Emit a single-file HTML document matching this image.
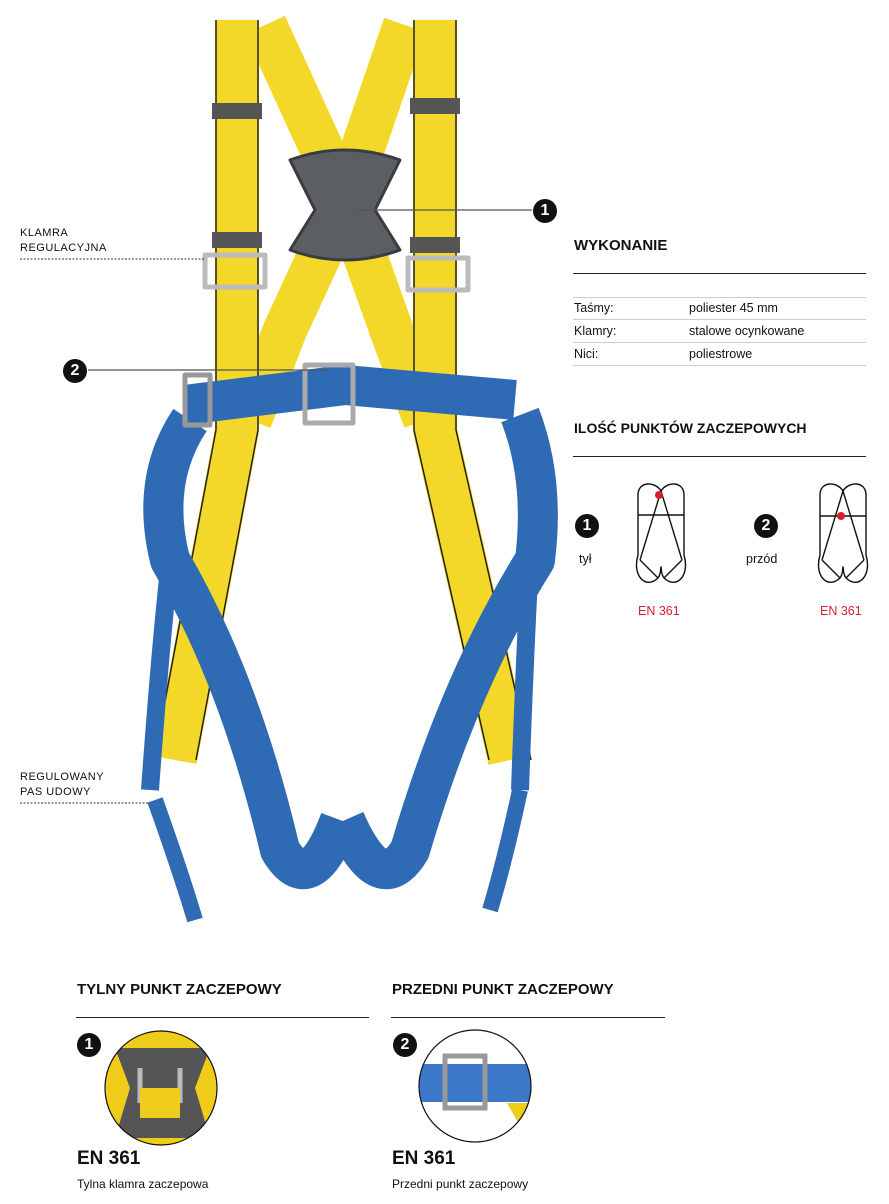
<!DOCTYPE html>
<html><head><meta charset="utf-8"><style>
body{margin:0;width:889px;height:1204px;background:#fff;font-family:"Liberation Sans",sans-serif;position:relative;overflow:hidden;color:#111}
.a{position:absolute}
.h{font-weight:bold;font-size:15px}
.ln{position:absolute;height:1px;background:#222}
.g{position:absolute;height:1px;background:#ccc}
.t{font-size:12.5px}
.bad{position:absolute;width:24px;height:24px;border-radius:50%;background:#111;color:#fff;font-weight:bold;font-size:16px;text-align:center;line-height:24px}
.sm{font-size:11px;letter-spacing:.5px}
</style></head><body>
<svg class="a" style="left:0;top:0" width="889" height="960" viewBox="0 0 889 960">
<g fill="none" stroke-linejoin="round" stroke-linecap="butt">
<g stroke="#f3d82a" stroke-width="44">
<path d="M237 20 L237 430 L175 760"/>
<path d="M435 20 L435 430 L510 760"/>
<path d="M405 25 L345 200 L285 330 L250 420"/>
<path d="M265 25 L345 200 L395 340 L425 420"/>
</g>
<g stroke="#222" stroke-width="1.5">
<path d="M216 20 L216 430 L154 760 M258 20 L258 430 L196 760"/>
<path d="M414 20 L414 430 L489 760 M456 20 L456 430 L531 760"/>
</g>
<path d="M290 160 Q345 140 400 160 L375 210 L400 250 Q345 270 290 250 L315 210 Z" fill="#5b5e63" stroke="#3a3c40" stroke-width="3"/>
<rect x="212" y="103" width="50" height="16" fill="#555"/>
<rect x="410" y="98" width="50" height="16" fill="#555"/>
<rect x="212" y="232" width="50" height="16" fill="#555"/>
<rect x="410" y="237" width="50" height="16" fill="#555"/>
<rect x="205" y="255" width="60" height="32" fill="none" stroke="#bbb" stroke-width="5"/>
<rect x="408" y="258" width="60" height="32" fill="none" stroke="#bbb" stroke-width="5"/>
<g stroke="#2f6ab5" stroke-width="40">
<path d="M185 405 L345 385 L515 400"/>
<path d="M190 420 Q150 480 170 560 Q240 680 280 850 Q310 900 340 820"/>
<path d="M520 415 Q545 480 535 560 Q460 680 410 850 Q380 900 345 820"/>
</g>
<path d="M170 560 Q160 650 150 790" stroke="#2f6ab5" stroke-width="18"/>
<path d="M530 560 Q525 650 520 790" stroke="#2f6ab5" stroke-width="18"/>
<path d="M155 800 Q180 870 195 920" stroke="#2f6ab5" stroke-width="16"/>
<path d="M520 790 Q505 860 490 910" stroke="#2f6ab5" stroke-width="16"/>
<rect x="305" y="365" width="48" height="58" fill="none" stroke="#aaa" stroke-width="5"/>
<rect x="185" y="375" width="25" height="50" fill="none" stroke="#999" stroke-width="5"/>
</g>
<line x1="358" y1="210" x2="532" y2="210" stroke="#555" stroke-width="1.2"/>
<line x1="88" y1="370" x2="330" y2="370" stroke="#555" stroke-width="1.2"/>
<line x1="20" y1="259" x2="205" y2="259" stroke="#333" stroke-dasharray="2 1.5"/>
<line x1="20" y1="803" x2="150" y2="803" stroke="#333" stroke-dasharray="2 1.5"/>
<g fill="none" stroke="#111" stroke-width="1.4">
<path d="M661 491 C655 481 638 481 638 495 L638 555 C632 575 645 590 658 578 C662 572 660 568 661 567 C662 568 660 572 664 578 C677 590 690 575 684 555 L684 495 C684 481 667 481 661 491 Z"/>
<path d="M638 515 L684 515 M661 491 L640 560 M661 491 L682 560 M640 560 Q650 570 658 578 M682 560 Q672 570 664 578"/>
<path d="M843 491 C837 481 820 481 820 495 L820 555 C814 575 827 590 840 578 C844 572 842 568 843 567 C844 568 842 572 846 578 C859 590 872 575 866 555 L866 495 C866 481 849 481 843 491 Z"/>
<path d="M820 516 L866 516 M843 491 L822 560 M843 491 L864 560 M822 560 Q832 570 840 578 M864 560 Q854 570 846 578"/>
</g>
<circle cx="659" cy="495" r="4" fill="#d62030"/>
<circle cx="841" cy="516" r="4" fill="#d62030"/>
</svg>
<div class="bad" style="left:533px;top:199px">1</div>
<div class="bad" style="left:63px;top:359px">2</div>
<div class="a sm" style="left:20px;top:226px;line-height:15px">KLAMRA<br>REGULACYJNA</div>
<div class="a sm" style="left:20px;top:770px;line-height:15px">REGULOWANY<br>PAS UDOWY</div>
<div class="a h" style="left:574px;top:237px">WYKONANIE</div>
<div class="ln" style="left:573px;top:273px;width:293px"></div>
<div class="g" style="left:573px;top:297px;width:293px"></div>
<div class="a t" style="left:574px;top:301px">Taśmy:</div><div class="a t" style="left:689px;top:301px">poliester 45 mm</div>
<div class="g" style="left:573px;top:319px;width:293px"></div>
<div class="a t" style="left:574px;top:324px">Klamry:</div><div class="a t" style="left:689px;top:324px">stalowe ocynkowane</div>
<div class="g" style="left:573px;top:342px;width:293px"></div>
<div class="a t" style="left:574px;top:347px">Nici:</div><div class="a t" style="left:689px;top:347px">poliestrowe</div>
<div class="g" style="left:573px;top:365px;width:293px"></div>
<div class="a h" style="left:574px;top:420px;font-size:14px">ILOŚĆ PUNKTÓW ZACZEPOWYCH</div>
<div class="ln" style="left:573px;top:456px;width:293px"></div>
<div class="bad" style="left:575px;top:514px">1</div>
<div class="a t" style="left:579px;top:552px">tył</div>
<div class="bad" style="left:754px;top:514px">2</div>
<div class="a t" style="left:746px;top:552px">przód</div>
<div class="a t" style="left:638px;top:604px;color:#d62030">EN 361</div>
<div class="a t" style="left:820px;top:604px;color:#d62030">EN 361</div>
<div class="a h" style="left:77px;top:981px">TYLNY PUNKT ZACZEPOWY</div>
<div class="ln" style="left:76px;top:1017px;width:293px"></div>
<div class="a h" style="left:392px;top:981px">PRZEDNI PUNKT ZACZEPOWY</div>
<div class="ln" style="left:391px;top:1017px;width:274px"></div>
<div class="bad" style="left:77px;top:1033px">1</div>
<div class="bad" style="left:393px;top:1033px">2</div>
<svg class="a" style="left:100px;top:1028px" width="125" height="125">
<clipPath id="c1"><ellipse cx="61" cy="60" rx="56" ry="57"/></clipPath>
<g clip-path="url(#c1)"><rect width="125" height="125" fill="#f0cc1a"/><path d="M15 20 L110 20 L95 60 L110 110 L15 110 L30 60Z" fill="#555"/><path d="M40 40 L40 75 M80 40 L80 75" stroke="#bbb" stroke-width="5"/><rect x="40" y="60" width="40" height="30" fill="#f0cc1a"/></g>
<ellipse cx="61" cy="60" rx="56" ry="57" fill="none" stroke="#111" stroke-width="1.2"/>
</svg>
<svg class="a" style="left:417px;top:1028px" width="120" height="120">
<clipPath id="c2"><circle cx="58" cy="58" r="56"/></clipPath>
<g clip-path="url(#c2)"><rect width="120" height="120" fill="#fff"/><rect x="0" y="36" width="120" height="38" fill="#3c78c8"/><rect x="28" y="28" width="40" height="52" fill="none" stroke="#999" stroke-width="5"/><path d="M90 75 L120 75 L110 110Z" fill="#f0cc1a"/></g>
<circle cx="58" cy="58" r="56" fill="none" stroke="#111" stroke-width="1.2"/>
</svg>
<div class="a" style="left:77px;top:1148px;font-weight:bold;font-size:19px">EN 361</div>
<div class="a" style="left:392px;top:1148px;font-weight:bold;font-size:19px">EN 361</div>
<div class="a t" style="left:77px;top:1177px;font-size:12px">Tylna klamra zaczepowa</div>
<div class="a t" style="left:392px;top:1177px;font-size:12px">Przedni punkt zaczepowy</div>
</body></html>
